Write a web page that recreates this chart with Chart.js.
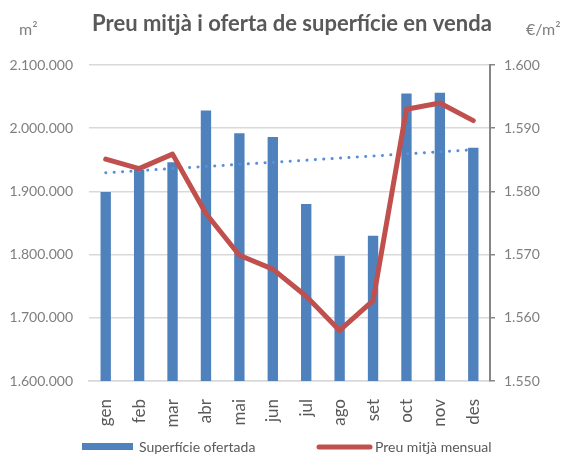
<!DOCTYPE html>
<html>
<head>
<meta charset="utf-8">
<script src="https://cdn.jsdelivr.net/npm/chart.js@4.4.0/dist/chart.umd.min.js"></script>
<style>
  html, body { margin: 0; padding: 0; background: #fff; }
  #wrap { width: 561px; height: 455px; }
</style>
</head>
<body>
<div id="wrap"><canvas id="chart" width="561" height="455"></canvas></div>
<script>
// months
var months = ['gen', 'feb', 'mar', 'abr', 'mai', 'jun', 'jul', 'ago', 'set', 'oct', 'nov', 'des'];
// m2 offered (left axis)
var superficie = [1899000, 1934000, 1946000, 2028000, 1992000, 1986000, 1880000, 1798000, 1830000, 2055000, 2056000, 1969000];
// mean price €/m2 (right axis)
var preu = [1585.1, 1583.6, 1585.9, 1576.5, 1569.9, 1567.7, 1563.4, 1558.0, 1562.7, 1593.0, 1594.0, 1591.2];
// dotted trend line, ends
var trendStart = 1929500;
var trendEnd = 1966000;
// axis ranges / ticks
var leftTicks = [1600000, 1700000, 1800000, 1900000, 2000000, 2100000];
var rightTicks = [1550, 1560, 1570, 1580, 1590, 1600];

var blue = '#4f81bd';
var red = '#c0504d';
var trendBlue = '#5a8fd8';
var grey = '#595959';
var font = 'Lato, "Open Sans", sans-serif';

function dots(v) {
    return String(v).replace(/\B(?=(\d{3})+(?!\d))/g, '.');
}

var trend = months.map(function (m, i) {
    if (i === 0) return trendStart;
    if (i === months.length - 1) return trendEnd;
    return null;
});

var decor = {
    id: 'decor',
    afterDraw: function (chart) {
        var ctx = chart.ctx;
        ctx.save();
        ctx.textBaseline = 'middle';
        // title
        ctx.fillStyle = grey;
        ctx.font = 'bold 22px ' + font;
        ctx.textAlign = 'center';
        ctx.fillText('Preu mitjà i oferta de superfície en venda', 292, 24);
        // units
        ctx.fillStyle = '#808080';
        ctx.font = '16px ' + font;
        ctx.textAlign = 'left';
        ctx.fillText('m²', 19, 30);
        ctx.fillText('€/m²', 526, 30);
        // legend
        var ly = 447;
        ctx.font = '14px ' + font;
        ctx.fillStyle = blue;
        ctx.fillRect(82, ly - 4, 51, 7);
        ctx.fillStyle = grey;
        ctx.fillText('Superfície ofertada', 139, ly);
        ctx.strokeStyle = red;
        ctx.lineWidth = 5;
        ctx.lineCap = 'round';
        ctx.beginPath();
        ctx.moveTo(319, ly);
        ctx.lineTo(370, ly);
        ctx.stroke();
        ctx.fillText('Preu mitjà mensual', 375, ly);
        ctx.restore();
    }
};

new Chart(document.getElementById('chart'), {
    type: 'bar',
    data: {
        labels: months,
        datasets: [
            {
                type: 'line',
                label: 'Preu mitjà mensual',
                data: preu,
                yAxisID: 'y1',
                borderColor: red,
                backgroundColor: red,
                borderWidth: 5,
                borderJoinStyle: 'round',
                borderCapStyle: 'round',
                pointRadius: 0,
                tension: 0,
                order: 0
            },
            {
                type: 'line',
                label: 'Tendència',
                data: trend,
                yAxisID: 'y',
                borderColor: trendBlue,
                borderWidth: 3,
                borderDash: [0.1, 8.3],
                borderCapStyle: 'round',
                pointRadius: 0,
                spanGaps: true,
                order: 1
            },
            {
                label: 'Superfície ofertada',
                data: superficie,
                yAxisID: 'y',
                backgroundColor: blue,
                borderWidth: 0,
                barPercentage: 0.62,
                categoryPercentage: 0.5,
                order: 2
            }
        ]
    },
    options: {
        responsive: false,
        animation: false,
        layout: { padding: { top: 65, left: 0, right: 0, bottom: 0 } },
        plugins: {
            legend: { display: false },
            title: { display: false },
            tooltip: { enabled: false }
        },
        scales: {
            x: {
                offset: true,
                grid: { display: false },
                border: { color: '#d9d9d9', width: 1.5 },
                ticks: {
                    minRotation: 90,
                    maxRotation: 90,
                    color: grey,
                    padding: 10,
                    font: { family: font, size: 17 }
                },
                afterFit: function (s) { s.height = 74; }
            },
            y: {
                position: 'left',
                min: leftTicks[0],
                max: leftTicks[leftTicks.length - 1],
                afterBuildTicks: function (s) {
                    s.ticks = leftTicks.map(function (v) { return { value: v }; });
                },
                grid: { color: '#d9d9d9', lineWidth: 1.5, drawTicks: false },
                border: { display: false },
                ticks: {
                    color: '#7f7f7f',
                    padding: 16,
                    font: { family: font, size: 14 },
                    callback: function (v) { return dots(v); }
                },
                afterFit: function (s) { s.width = 89; }
            },
            y1: {
                position: 'right',
                min: rightTicks[0],
                max: rightTicks[rightTicks.length - 1],
                afterBuildTicks: function (s) {
                    s.ticks = rightTicks.map(function (v) { return { value: v }; });
                },
                grid: { drawOnChartArea: false, color: '#868686', lineWidth: 1.5, tickLength: 5 },
                border: { color: '#868686', width: 2 },
                ticks: {
                    color: '#7f7f7f',
                    padding: 9,
                    font: { family: font, size: 14 },
                    callback: function (v) { return dots(v); }
                },
                afterFit: function (s) { s.width = 71; }
            }
        }
    },
    plugins: [decor]
});
</script>
</body>
</html>
